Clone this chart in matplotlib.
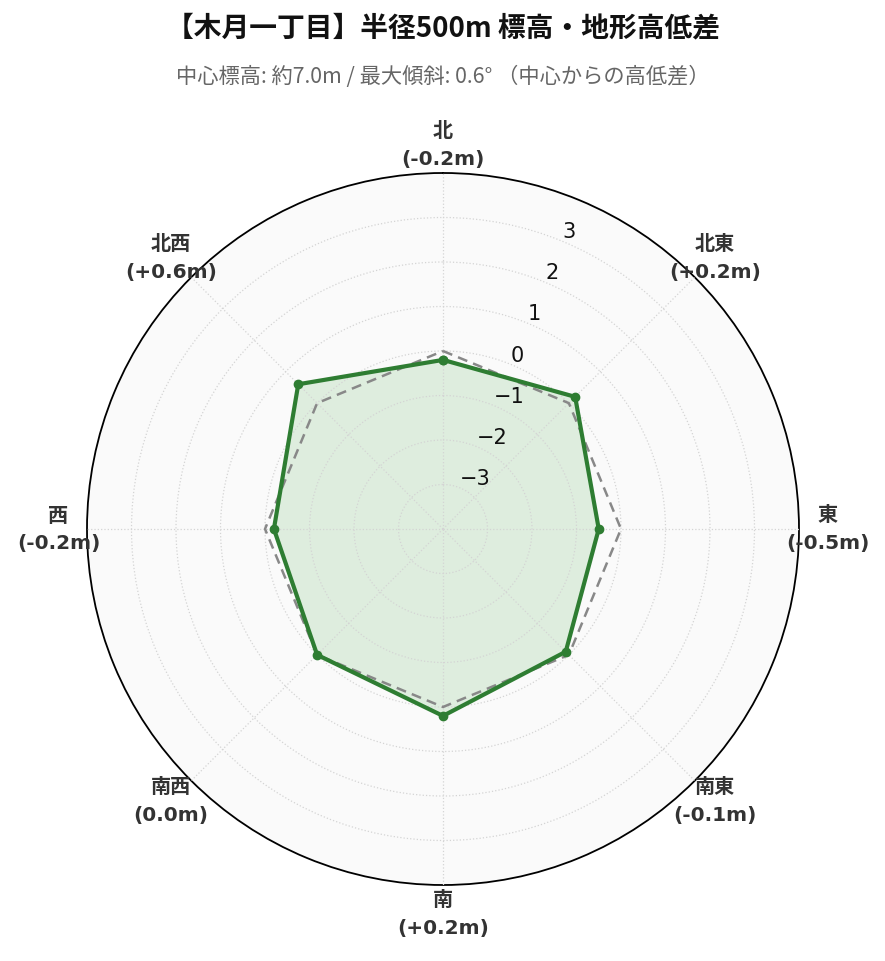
import numpy as np
import matplotlib
matplotlib.use("Agg")
import matplotlib.pyplot as plt

directions = ["北", "北東", "東", "南東", "南", "南西", "西", "北西"]
diffs = [-0.2, 0.2, -0.5, -0.1, 0.2, 0.0, -0.2, 0.6]
reference = [0, 0, 0, 0, 0, 0, 0, 0]
radial_ticks = [-3, -2, -1, 0, 1, 2, 3]
title = "【木月一丁目】半径500m 標高・地形高低差"
subtitle = "中心標高: 約7.0m / 最大傾斜: 0.6° （中心からの高低差）"

CJK = ["DejaVu Sans", "Noto Sans CJK JP"]
plt.rcParams["font.family"] = CJK

fig = plt.figure(figsize=(8.85, 9.62), dpi=100)
ax = fig.add_axes([87/885, 76/962, 712/885, 712/962], projection="polar")
ax.set_theta_zero_location("N")
ax.set_theta_direction(-1)
ax.set_facecolor("#fafafa")

n = len(directions)
theta = np.arange(n) * 2 * np.pi / n
tc = np.append(theta, theta[0])
vals = np.append(diffs, diffs[0])
refs = np.append(reference, reference[0])

ax.fill(tc, vals, color="#4caf50", alpha=0.16, zorder=1, lw=0)
ax.plot(tc, refs, color="#888888", lw=1.8, ls=(0, (4, 2.5)), zorder=3)
ax.plot(tc, vals, color="#2e7d32", lw=3, marker="o", ms=6, zorder=4)

ax.set_ylim(-4, 4)
ax.set_yticks(radial_ticks)
ax.set_yticklabels([f"{t}".replace("-", "\u2212") for t in radial_ticks],
                   fontsize=15, color="#111111", family="DejaVu Sans")
ax.set_rlabel_position(22.5)

labels = [f"{d}\n({v:+.1f}m)" if v != 0 else f"{d}\n(0.0m)" for d, v in zip(directions, diffs)]
ax.set_xticks(theta)
ax.set_xticklabels(labels, fontsize=14.5, fontweight="bold", color="#333333",
                   linespacing=1.6)
ax.tick_params(axis="x", pad=10)

ax.set_axisbelow(False)
ax.grid(True, color="#d4d4d4", ls=":", lw=0.9, zorder=1.5)
ax.spines["polar"].set_color("black")
ax.spines["polar"].set_linewidth(1.3)

fig.text(0.5, 1 - 28/962, title, ha="center", va="center", fontsize=20,
         fontweight="bold", color="#111111", family=["Noto Sans CJK JP", "DejaVu Sans"])
fig.text(0.5, 1 - 77/962, subtitle, ha="center", va="center", fontsize=15.3,
         color="#666666", family=["Noto Sans CJK JP", "DejaVu Sans"])

fig.savefig("out.png", dpi=100, facecolor="white")
